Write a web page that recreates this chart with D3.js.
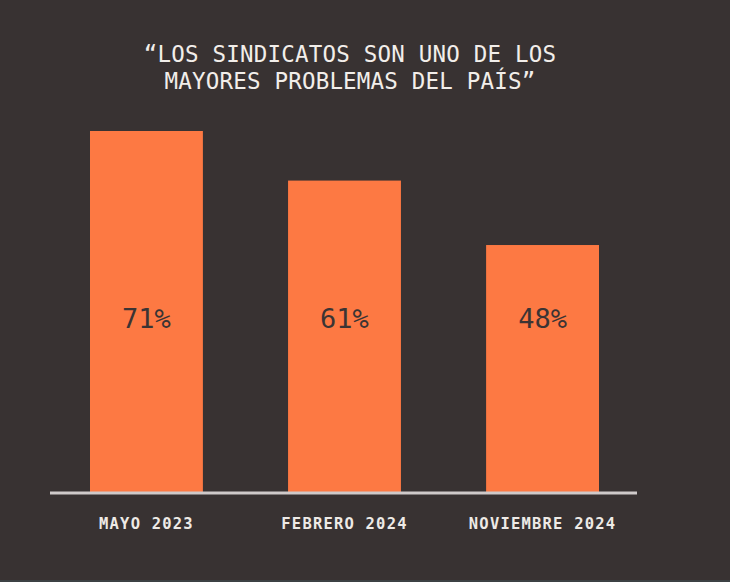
<!DOCTYPE html>
<html>
<head>
<meta charset="utf-8">
<script src="https://cdn.jsdelivr.net/npm/d3@7"></script>
<style>
  html, body { margin: 0; padding: 0; background: #383232; }
  svg { display: block; }
</style>
</head>
<body>
<script>
const categories = ["MAYO 2023", "FEBRERO 2024", "NOVIEMBRE 2024"];
const values = [71, 61, 48];
const valueLabels = ["71%", "61%", "48%"];
const titleLines = ["“LOS SINDICATOS SON UNO DE LOS", "MAYORES PROBLEMAS DEL PAÍS”"];

const W = 730, H = 582;
const svg = d3.select("body").append("svg").attr("width", W).attr("height", H);
svg.append("rect").attr("width", W).attr("height", H).attr("fill", "#383232");
svg.append("rect").attr("x", 0).attr("y", H - 2).attr("width", W).attr("height", 2).attr("fill", "#3c4144");

const baseY = 493;
const x = d3.scaleBand().domain(categories).range([90, 599]).paddingInner(0.43).paddingOuter(0);
const y = d3.scaleLinear().domain([0, 71]).range([483, 131]);

const mono = "'DejaVu Sans Mono', 'Liberation Mono', monospace";

// title
svg.append("g").selectAll("text").data(titleLines).join("text")
  .attr("x", 350)
  .attr("y", (d, i) => 62 + i * 27)
  .attr("text-anchor", "middle")
  .attr("fill", "#f2eeea")
  .attr("font-family", mono)
  .attr("font-size", 22.5)
  .style("letter-spacing", "0.2px")
  .text(d => d);

// bars
svg.append("g").selectAll("rect").data(values).join("rect")
  .attr("x", (d, i) => x(categories[i]))
  .attr("y", d => y(d))
  .attr("width", x.bandwidth())
  .attr("height", d => baseY - y(d))
  .attr("fill", "#fd7943");

// value labels
svg.append("g").selectAll("text").data(valueLabels).join("text")
  .attr("x", (d, i) => x(categories[i]) + x.bandwidth() / 2)
  .attr("y", 328)
  .attr("text-anchor", "middle")
  .attr("fill", "#3b3434")
  .attr("font-family", mono)
  .attr("font-size", 27)
  .text(d => d);

// baseline axis
const axis = svg.append("g").attr("transform", `translate(0,${baseY})`)
  .call(d3.axisBottom(x).tickSize(0).tickPadding(0));
axis.select(".domain").remove();
axis.append("line").attr("x1", 50).attr("x2", 637).attr("y1", 0).attr("y2", 0)
  .attr("stroke", "#cfcaca").attr("stroke-width", 3);
axis.selectAll(".tick text")
  .attr("y", 36)
  .attr("dy", 0)
  .attr("fill", "#eeeae6")
  .attr("font-family", mono)
  .attr("font-size", 15.5)
  .attr("font-weight", "bold")
  .style("letter-spacing", "1.2px");
</script>
</body>
</html>
